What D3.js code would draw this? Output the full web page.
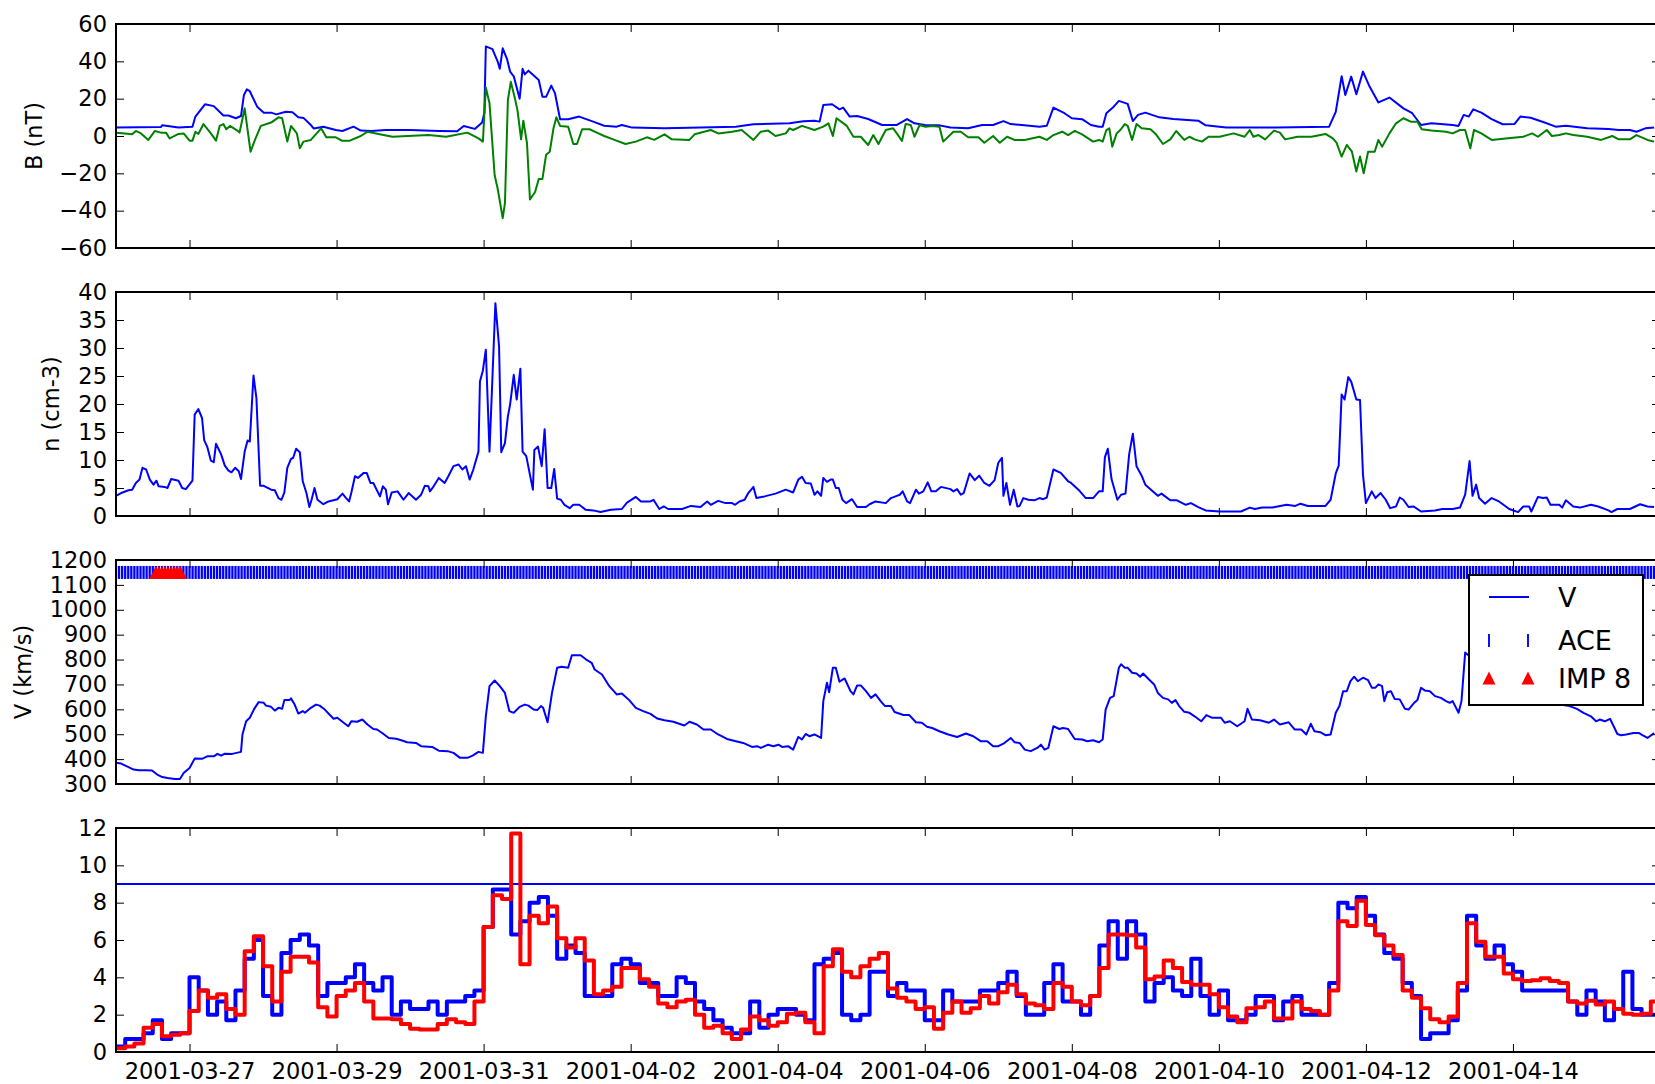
<!DOCTYPE html>
<html>
<head>
<meta charset="utf-8">
<title>Solar wind overview, 2001-03-26 to 2001-04-16</title>
<script src="https://d3js.org/d3.v7.min.js"></script>
<style>
  body { margin: 0; background: #fff; }
  text { font-family: "DejaVu Sans", sans-serif; }
</style>
</head>
<body>
<svg id="chart" width="1655" height="1084"></svg>
<script>
// times are days after 2001-03-26 00:00 UT

// |B| (nT)
const bMag = [[0,4.5],[0.61,4.8],[0.63,5.8],[0.85,4.5],[1.04,5],[1.08,10.4],[1.21,17],[1.33,16],[1.46,11],[1.53,11],[1.63,9.5],[1.70,10.7],[1.74,22],[1.78,25],[1.82,24],[1.92,15.7],[2.01,12.5],[2.11,12.5],[2.18,11.6],[2.31,13],[2.40,12.7],[2.48,10],[2.55,9.7],[2.65,5.9],[2.69,4],[2.82,5],[2.99,3.2],[3.08,2.7],[3.23,5],[3.33,2.9],[3.47,2.7],[3.67,3.2],[4.0,3.2],[4.39,2.7],[4.64,2.5],[4.73,5.4],[4.88,3.8],[4.98,7.2],[5.01,12.5],[5.03,48],[5.12,46.5],[5.19,40],[5.22,36],[5.26,47],[5.32,41],[5.36,34.5],[5.41,32],[5.49,20],[5.53,36],[5.56,33],[5.61,35],[5.75,30],[5.80,21],[5.85,21],[5.92,27],[5.97,23],[6.04,9],[6.15,9],[6.30,10.4],[6.49,7.7],[6.64,5.5],[6.81,5],[6.88,5.9],[7.02,4.5],[7.46,4.1],[7.95,4.5],[8.43,5],[8.67,6.3],[9.16,6.8],[9.35,7.9],[9.50,8.2],[9.57,7.7],[9.62,16.6],[9.74,17],[9.84,14.3],[9.89,15.2],[9.98,10.4],[10.08,10.7],[10.23,9.1],[10.42,5.9],[10.62,5.9],[10.76,9.1],[10.86,6.8],[11.0,5.9],[11.2,5.7],[11.35,4.5],[11.59,4.1],[11.78,5.9],[11.93,5.9],[12.07,8],[12.17,6.4],[12.32,5.9],[12.56,5],[12.66,5.5],[12.75,15.2],[12.90,12.2],[13.0,9.5],[13.14,9],[13.26,5.9],[13.37,5],[13.42,5],[13.47,12.2],[13.57,15.7],[13.64,18.8],[13.76,17.2],[13.83,8],[13.90,11.3],[14.0,12.5],[14.19,10],[14.38,9.1],[14.72,8.2],[14.82,5.7],[15.10,4.6],[15.78,4.5],[16.26,4.8],[16.50,5],[16.59,12.9],[16.67,32],[16.72,22],[16.80,31.8],[16.87,22.4],[16.96,34.5],[17.05,26.5],[17.17,18],[17.32,20.6],[17.51,14.8],[17.63,12.2],[17.75,5.9],[17.89,6.8],[18.18,5.9],[18.26,5.4],[18.33,11.3],[18.40,10.4],[18.46,14.3],[18.57,12.5],[18.71,9],[18.86,6.3],[19.02,6.4],[19.10,10.4],[19.24,9.8],[19.43,7.2],[19.58,5],[19.72,5.5],[20.01,4.1],[20.30,3.8],[20.44,3.2],[20.59,3.2],[20.68,2.3],[20.80,4.1],[20.92,4.5]];

// Bz (nT)
const bz = [[0,1.8],[0.12,1.4],[0.22,0.9],[0.27,2.7],[0.34,1.4],[0.44,-2.1],[0.53,2.7],[0.61,1.8],[0.68,1.8],[0.73,-1.3],[0.85,1.1],[0.92,1.4],[1.0,-2.5],[1.04,-2.5],[1.08,2.3],[1.12,1.1],[1.19,6.4],[1.29,1.4],[1.36,-2.5],[1.41,5.4],[1.46,6.4],[1.50,3.6],[1.55,5.4],[1.65,2.9],[1.68,1.8],[1.75,14.8],[1.83,-8.4],[1.89,-2.1],[1.97,5.4],[2.11,7.2],[2.21,10],[2.26,9.5],[2.33,-3],[2.38,5.4],[2.46,1.4],[2.50,-6.6],[2.55,-3],[2.65,-2.1],[2.79,4.1],[2.86,-0.7],[2.99,-0.7],[3.07,-2.5],[3.18,-2.5],[3.33,0],[3.42,2.3],[3.57,1.1],[3.76,-0.4],[4.25,0.5],[4.49,-0.4],[4.78,1.8],[4.93,-1.3],[4.99,-3],[5.03,26],[5.08,17.5],[5.15,-21],[5.19,-28],[5.26,-44],[5.29,-36],[5.33,19.3],[5.37,29],[5.42,21],[5.46,14],[5.51,-1.8],[5.54,8.2],[5.59,-3.9],[5.63,-34],[5.70,-30],[5.75,-23],[5.80,-23],[5.85,-10],[5.90,-8.4],[5.95,4.1],[5.99,10],[6.04,5.4],[6.15,5],[6.22,-4.3],[6.27,-4.3],[6.34,3.6],[6.44,3.6],[6.54,1.8],[6.64,0],[6.78,-2.1],[6.93,-4.3],[7.07,-3],[7.22,-0.7],[7.32,-2.1],[7.46,0.9],[7.56,-1.8],[7.80,-2.1],[7.87,0.9],[8.09,3.2],[8.19,1.4],[8.38,2.3],[8.51,3.2],[8.67,-2.1],[8.77,2.3],[8.87,2.9],[8.97,0],[9.11,1.4],[9.16,4.1],[9.21,3.2],[9.33,5.4],[9.50,3.2],[9.62,5],[9.69,6.8],[9.75,0],[9.80,9.5],[9.94,5.4],[10.03,-0.4],[10.13,-0.4],[10.23,-4.8],[10.30,0.5],[10.37,-4.3],[10.47,3.2],[10.57,4.1],[10.62,1.4],[10.69,-2.7],[10.74,6.4],[10.81,5.9],[10.86,-0.4],[10.93,5.9],[11.01,5],[11.10,5.4],[11.20,5],[11.25,-3],[11.39,2.3],[11.49,2.3],[11.59,-0.7],[11.73,-0.7],[11.81,-3.6],[11.93,0],[12.02,-3.6],[12.12,-0.4],[12.22,-2.1],[12.36,-2.1],[12.56,-0.4],[12.66,-2.1],[12.75,0.5],[12.87,2.3],[12.95,0.5],[13.04,2.7],[13.14,0.9],[13.29,-3],[13.37,-2.1],[13.42,-3],[13.47,3.2],[13.51,4.1],[13.55,-5.7],[13.61,1.4],[13.66,3.2],[13.72,6.4],[13.76,5.4],[13.82,-2.1],[13.88,6.4],[13.95,4.1],[14.07,3.6],[14.14,1.1],[14.24,-4.3],[14.34,-1.8],[14.42,2.7],[14.53,-2.1],[14.60,-0.4],[14.67,-1.8],[14.77,-3],[14.86,-0.4],[15.01,-0.4],[15.20,1.4],[15.35,-0.4],[15.42,3.2],[15.47,-0.4],[15.54,0.5],[15.63,-1.8],[15.75,2.9],[15.83,1.8],[15.90,-1.8],[16.07,-0.4],[16.26,-0.4],[16.45,1.1],[16.55,-1.3],[16.60,-3.6],[16.67,-11],[16.74,-4.8],[16.81,-8.4],[16.87,-19],[16.92,-11],[16.97,-20],[17.03,-8.4],[17.12,-8.4],[17.17,-2.1],[17.22,-5.7],[17.32,1.4],[17.41,6.8],[17.51,9.5],[17.61,7.7],[17.70,7.7],[17.76,3.6],[17.89,2.9],[18.09,2.3],[18.18,1.4],[18.28,3.2],[18.35,3.2],[18.42,-6.6],[18.47,3.2],[18.57,1.4],[18.71,-2.1],[18.90,-1.3],[19.14,-0.4],[19.26,1.4],[19.34,-0.4],[19.46,3.2],[19.53,0],[19.63,0.5],[19.72,1.4],[19.82,0.5],[20.01,-0.4],[20.20,-2.1],[20.35,0],[20.44,-1.8],[20.59,-1.8],[20.68,0.5],[20.83,-2.1],[20.92,-3]];

// proton density (cm-3)
const dens = [[0,3.6],[0.07,4.1],[0.17,4.6],[0.22,4.7],[0.27,5.9],[0.32,6.5],[0.36,8.6],[0.41,8.3],[0.46,6.5],[0.51,5.6],[0.55,6.3],[0.58,5.3],[0.66,5.2],[0.70,5.0],[0.75,6.6],[0.85,6.3],[0.90,5.0],[0.95,4.8],[1.04,6.3],[1.07,18.1],[1.12,19.1],[1.17,17.5],[1.20,13.5],[1.24,12.4],[1.29,9.9],[1.33,9.6],[1.36,12.9],[1.43,11.0],[1.48,9.0],[1.53,8.1],[1.57,7.8],[1.62,8.6],[1.67,8.0],[1.70,6.6],[1.75,11.5],[1.79,13.5],[1.82,13.3],[1.87,25.1],[1.91,21],[1.96,5.4],[2.01,5.4],[2.11,4.7],[2.16,4.6],[2.21,3.2],[2.25,2.9],[2.29,4.2],[2.33,8.6],[2.38,10.2],[2.41,10.4],[2.45,12.0],[2.50,11.4],[2.54,6.2],[2.59,4.1],[2.63,1.6],[2.66,2.9],[2.70,5.0],[2.74,2.9],[2.82,2.1],[2.89,2.6],[3.01,3.0],[3.08,4.0],[3.13,3.2],[3.17,2.6],[3.20,4.1],[3.25,7.1],[3.29,6.8],[3.37,7.7],[3.41,7.7],[3.46,5.9],[3.50,5.9],[3.59,3.5],[3.63,5.3],[3.67,4.7],[3.70,2.1],[3.75,4.2],[3.83,4.4],[3.91,2.9],[3.98,4.1],[4.08,2.9],[4.15,3.8],[4.20,5.4],[4.25,5.3],[4.27,4.4],[4.32,5.3],[4.39,6.8],[4.47,5.9],[4.52,7.1],[4.59,8.9],[4.66,9.2],[4.71,8.3],[4.76,8.9],[4.81,6.5],[4.86,8.3],[4.93,11.5],[4.95,24.0],[4.99,26],[5.03,29.7],[5.08,11.5],[5.16,38],[5.21,30.3],[5.24,11.4],[5.29,13],[5.33,17.8],[5.36,19.9],[5.41,25.2],[5.45,20.8],[5.50,26.3],[5.53,11.5],[5.58,10.7],[5.67,4.7],[5.69,11.8],[5.74,12.4],[5.79,8.9],[5.83,15.5],[5.87,5.0],[5.92,5.0],[5.96,8.4],[6.0,3.1],[6.05,2.9],[6.10,2.0],[6.17,1.4],[6.22,2.0],[6.30,2.0],[6.39,1.1],[6.49,1.0],[6.59,0.7],[6.73,1.1],[6.88,1.25],[6.95,2.4],[7.07,3.4],[7.14,2.6],[7.27,2.6],[7.31,2.9],[7.39,1.25],[7.45,1.7],[7.51,1.25],[7.70,1.25],[7.82,1.8],[7.95,1.6],[8.04,2.6],[8.09,2.0],[8.19,2.7],[8.29,2.3],[8.38,2.3],[8.42,2.0],[8.48,2.6],[8.55,2.9],[8.60,4.1],[8.67,5.2],[8.71,3.2],[8.82,3.5],[8.97,4.0],[9.11,4.7],[9.21,4.2],[9.28,6.5],[9.33,7.0],[9.38,5.9],[9.45,5.8],[9.50,3.8],[9.54,4.4],[9.59,3.6],[9.62,6.8],[9.67,6.1],[9.72,6.5],[9.75,6.5],[9.79,5.0],[9.83,5.0],[9.88,2.9],[9.93,2.3],[10.01,3.0],[10.08,1.6],[10.20,1.6],[10.25,2.1],[10.33,2.6],[10.47,2.3],[10.54,3.2],[10.62,3.6],[10.66,3.8],[10.70,4.4],[10.76,2.6],[10.80,2.3],[10.88,4.7],[10.92,4.0],[10.98,4.4],[11.04,6.0],[11.09,4.4],[11.15,4.4],[11.22,5.2],[11.35,4.8],[11.39,4.4],[11.44,4.8],[11.49,3.8],[11.53,4.1],[11.61,7.6],[11.68,6.4],[11.74,7.2],[11.81,5.9],[11.88,5.4],[11.95,6.4],[12.0,9.5],[12.05,10.4],[12.07,3.6],[12.11,5.9],[12.16,2.0],[12.21,4.7],[12.26,1.7],[12.29,1.8],[12.34,3.2],[12.41,2.9],[12.49,2.8],[12.56,3.2],[12.61,3.0],[12.66,3.3],[12.75,8.3],[12.85,7.7],[12.95,6.2],[12.99,5.9],[13.09,4.7],[13.19,3.2],[13.29,3.2],[13.37,4.4],[13.42,4.4],[13.45,10.5],[13.49,12.0],[13.54,6.6],[13.62,2.9],[13.67,3.8],[13.73,4.0],[13.78,11.0],[13.83,14.7],[13.88,8.9],[13.95,7.2],[14.0,5.6],[14.05,5.0],[14.17,3.6],[14.22,4.0],[14.26,3.6],[14.34,2.8],[14.43,2.8],[14.55,2.0],[14.62,2.3],[14.72,1.6],[14.82,1.0],[15.01,0.8],[15.30,0.8],[15.42,1.5],[15.49,1.25],[15.59,1.5],[15.73,1.5],[15.92,2.0],[16.04,1.8],[16.11,2.2],[16.21,1.8],[16.36,1.8],[16.45,1.8],[16.52,2.9],[16.59,7.6],[16.63,9.0],[16.67,21.7],[16.71,20.8],[16.76,24.8],[16.80,24.0],[16.87,20.8],[16.92,20.7],[16.96,7.4],[17.0,2.3],[17.08,4.4],[17.13,3.2],[17.20,4.1],[17.27,2.9],[17.33,1.4],[17.41,1.7],[17.46,3.3],[17.51,2.9],[17.58,1.6],[17.65,1.7],[17.75,0.8],[17.94,1.0],[18.04,1.25],[18.18,1.25],[18.28,1.5],[18.35,3.8],[18.41,9.8],[18.45,3.6],[18.50,5.6],[18.54,3.2],[18.62,2.2],[18.71,3.2],[18.81,2.6],[18.95,1.25],[19.07,0.7],[19.14,1.7],[19.22,1.7],[19.25,0.8],[19.34,3.4],[19.41,3.2],[19.46,3.3],[19.51,2.0],[19.63,2.0],[19.67,1.5],[19.72,2.8],[19.82,1.7],[19.91,1.5],[20.06,2.0],[20.16,1.7],[20.30,1.0],[20.34,0.7],[20.42,1.25],[20.59,1.25],[20.73,2.1],[20.83,1.7],[20.92,1.6]];

// solar wind speed (km/s)
const speed = [[0,385],[0.07,382],[0.17,368],[0.24,358],[0.31,355],[0.41,355],[0.49,354],[0.56,338],[0.63,328],[0.70,324],[0.80,320],[0.87,320],[0.92,344],[1.0,364],[1.07,402],[1.17,401],[1.24,411],[1.33,411],[1.38,421],[1.43,414],[1.48,422],[1.58,421],[1.70,429],[1.72,499],[1.77,552],[1.82,566],[1.88,602],[1.94,629],[2.01,626],[2.04,615],[2.11,610],[2.16,595],[2.21,606],[2.26,602],[2.29,637],[2.36,637],[2.38,644],[2.43,619],[2.48,583],[2.54,593],[2.57,586],[2.65,606],[2.72,619],[2.77,615],[2.84,599],[2.91,577],[2.96,562],[3.01,566],[3.11,543],[3.16,532],[3.20,552],[3.28,550],[3.35,559],[3.42,539],[3.50,521],[3.55,519],[3.62,505],[3.71,485],[3.81,482],[3.88,476],[3.96,468],[4.08,465],[4.15,452],[4.30,449],[4.39,434],[4.51,432],[4.59,425],[4.68,405],[4.78,405],[4.85,414],[4.93,429],[4.99,425],[5.03,572],[5.08,693],[5.15,716],[5.22,693],[5.29,666],[5.35,593],[5.41,586],[5.49,610],[5.56,619],[5.61,615],[5.68,599],[5.73,597],[5.78,613],[5.81,606],[5.87,548],[5.93,666],[6.0,767],[6.06,771],[6.15,767],[6.20,817],[6.27,817],[6.32,817],[6.39,801],[6.47,787],[6.51,760],[6.61,740],[6.71,693],[6.81,660],[6.88,664],[6.98,637],[7.07,606],[7.17,593],[7.27,582],[7.36,563],[7.46,556],[7.58,550],[7.73,535],[7.80,550],[7.90,539],[7.99,519],[8.09,519],[8.19,499],[8.31,481],[8.43,472],[8.53,465],[8.65,449],[8.72,452],[8.77,445],[8.87,458],[8.94,452],[9.01,458],[9.06,449],[9.14,452],[9.21,438],[9.28,489],[9.33,479],[9.38,501],[9.43,492],[9.50,499],[9.59,485],[9.62,633],[9.67,707],[9.70,669],[9.75,767],[9.79,767],[9.84,711],[9.91,724],[9.99,673],[10.03,660],[10.08,696],[10.13,696],[10.20,673],[10.27,646],[10.33,660],[10.40,633],[10.46,613],[10.54,613],[10.59,589],[10.71,577],[10.79,577],[10.88,548],[10.96,546],[11.03,530],[11.10,525],[11.20,512],[11.32,499],[11.44,489],[11.56,503],[11.66,492],[11.76,472],[11.85,472],[11.93,452],[12.0,452],[12.07,462],[12.17,485],[12.22,468],[12.29,465],[12.36,438],[12.44,432],[12.53,445],[12.58,458],[12.63,438],[12.68,445],[12.75,532],[12.83,521],[12.88,525],[12.95,521],[13.04,481],[13.14,479],[13.21,472],[13.29,476],[13.37,468],[13.42,479],[13.46,599],[13.52,646],[13.57,653],[13.64,767],[13.67,781],[13.72,767],[13.76,767],[13.82,747],[13.88,744],[13.93,731],[13.97,744],[14.05,720],[14.12,700],[14.17,666],[14.24,646],[14.31,640],[14.36,626],[14.41,637],[14.46,613],[14.53,590],[14.60,586],[14.67,572],[14.76,552],[14.83,577],[14.91,566],[15.03,566],[15.08,546],[15.15,552],[15.25,532],[15.35,552],[15.39,602],[15.45,559],[15.56,556],[15.68,546],[15.75,559],[15.83,539],[15.95,548],[16.03,519],[16.12,519],[16.19,499],[16.25,542],[16.30,512],[16.38,508],[16.45,496],[16.52,499],[16.59,586],[16.64,613],[16.69,673],[16.74,673],[16.79,713],[16.84,731],[16.89,713],[16.96,727],[17.03,717],[17.08,687],[17.13,687],[17.17,700],[17.22,693],[17.25,633],[17.29,669],[17.34,673],[17.39,642],[17.46,640],[17.53,602],[17.58,599],[17.65,624],[17.70,637],[17.75,687],[17.80,676],[17.87,673],[17.94,653],[18.02,646],[18.09,633],[18.14,626],[18.18,633],[18.26,586],[18.30,633],[18.35,828],[18.42,810],[18.50,795],[18.60,775],[18.75,740],[18.90,705],[19.05,690],[19.20,665],[19.35,645],[19.50,630],[19.62,620],[19.77,613],[19.87,602],[19.96,586],[20.06,572],[20.13,552],[20.18,559],[20.25,552],[20.32,562],[20.37,532],[20.42,501],[20.47,496],[20.54,499],[20.64,505],[20.71,505],[20.76,496],[20.83,485],[20.92,505]];

// 3-hourly index, observed (blue) and predicted (red), from 2001-03-26 00 UT
const kpObs = [0.3,0.7,0.7,1.0,1.7,0.7,1.0,1.0, 4.0,3.3,2.0,2.7,1.7,3.3,5.0,6.0, 3.0,2.0,5.3,6.0,6.3,5.7,3.0,3.7, 3.7,4.0,4.7,3.7,3.3,4.0,2.0,2.7,
  2.3,2.3,2.7,2.0,2.7,2.7,3.0,3.3, 6.7,8.7,8.7,6.3,7.0,8.0,8.3,7.3, 5.0,5.7,5.3,3.0,3.0,3.0,4.7,5.0, 4.7,3.7,3.7,3.0,3.0,4.0,3.7,2.7,
  2.3,1.7,1.3,1.0,1.0,2.7,1.3,2.0, 2.3,2.3,2.0,1.7,4.7,5.0,5.3,2.0, 1.7,2.0,4.3,4.3,3.0,3.7,3.3,3.3, 1.7,1.7,3.3,2.7,2.7,2.7,3.3,3.3,
  3.7,4.3,3.0,2.0,2.0,3.7,4.7,2.7, 2.7,2.0,3.0,5.7,7.0,5.0,7.0,6.3, 2.7,3.7,4.0,3.3,3.0,5.0,3.0,2.0, 3.3,1.7,1.7,2.0,3.0,3.0,1.7,2.7,
  3.0,2.0,2.0,2.0,3.7,8.0,7.7,8.3, 7.3,6.3,5.3,5.0,3.7,3.0,0.7,1.0, 1.0,1.7,3.3,7.3,5.7,5.0,5.7,4.7, 4.3,3.3,3.3,3.3,3.3,3.3,2.7,2.0,
  3.3,2.7,1.7,2.3,4.3,2.3,2.0,2.0];
const kpPred = [0.2,0.3,0.45,1.3,1.5,0.85,0.93,1.0, 2.2,3.3,2.9,3.1,2.3,2.0,5.4,6.2, 4.6,2.7,4.3,5.1,5.1,4.8,2.4,1.9, 3.0,3.3,3.7,2.7,1.8,1.8,1.75,1.5,
  1.25,1.2,1.2,1.5,1.75,1.6,1.5,2.7, 6.7,8.4,8.2,11.7,4.7,7.3,6.9,7.8, 6.1,5.6,6.1,4.9,3.1,3.3,3.5,4.5, 4.5,3.9,3.5,2.6,2.4,2.7,2.8,2.0,
  1.3,1.4,1.0,0.7,1.2,1.9,1.7,1.4, 1.6,2.05,2.1,1.6,1.0,4.6,5.5,4.3, 4.0,4.6,5.0,5.3,3.4,2.9,2.7,2.3, 2.4,1.25,2.1,2.7,2.1,2.35,3.0,2.6,
  3.2,3.6,3.1,2.6,2.5,2.3,3.7,3.5, 2.7,2.5,3.0,4.5,6.3,6.3,6.25,5.6, 3.9,4.05,4.9,4.5,3.75,3.6,3.6,3.1, 2.4,1.9,1.6,2.35,2.4,2.7,1.8,1.8,
  2.7,2.3,2.2,2.0,3.3,7.0,6.75,8.1, 6.8,6.25,5.7,5.2,3.3,2.9,2.35,1.75, 1.6,1.9,3.7,6.9,5.9,5.1,5.1,4.2, 3.9,3.8,3.85,3.95,3.8,3.7,2.7,2.6,
  2.75,2.55,2.7,2.3,2.05,2.0,2.05,2.7];
const kpThreshold = 9;

// spacecraft coverage flags (hours after start), drawn at V = 1150
const aceHours = [0, 504];
const imp8Hours = [13, 14, 15, 16, 17, 18, 19, 20, 21];
const flagLevel = 1150;

const dateTicks = ["2001-03-27","2001-03-29","2001-03-31","2001-04-02","2001-04-04","2001-04-06","2001-04-08","2001-04-10","2001-04-12","2001-04-14"];
const bTicks = [-60,-40,-20,0,20,40,60];
const nTicks = [0,5,10,15,20,25,30,35,40];
const vTicks = [300,400,500,600,700,800,900,1000,1100,1200];
const kTicks = [0,2,4,6,8,10,12];

const start = Date.UTC(2001, 2, 26);
const toDate = t => new Date(start + t * 864e5);
const parseDay = d3.utcParse("%Y-%m-%d");

const L = 116, R = 1660, H = 224;
const fontSize = "22.5px";
const svg = d3.select("#chart");
const x = d3.scaleUtc().domain([toDate(0), toDate(21)]).range([L, R]);
const tickDates = dateTicks.map(parseDay);

const panels = [
  { top: 24,  domain: [-60, 60],    ticks: bTicks, label: "B (nT)",   labelX: 34 },
  { top: 292, domain: [0, 40],      ticks: nTicks, label: "n (cm-3)", labelX: 51 },
  { top: 560, domain: [300, 1200],  ticks: vTicks, label: "V (km/s)", labelX: 23 },
  { top: 828, domain: [0, 12],      ticks: kTicks, label: null }
];

function styleAxis(g) {
  g.select(".domain").remove();
  g.selectAll(".tick line").attr("stroke", "#000").attr("stroke-width", 1);
  g.selectAll(".tick text").attr("fill", "#000")
    .style("font-family", "'DejaVu Sans', sans-serif").style("font-size", fontSize);
}

panels.forEach((p, i) => {
  const g = svg.append("g").attr("transform", `translate(0,${p.top})`);
  p.g = g;
  p.y = d3.scaleLinear().domain(p.domain).range([H, 0]);

  g.append("clipPath").attr("id", "clip" + i)
    .append("rect").attr("x", L).attr("y", 0).attr("width", R - L).attr("height", H);
  p.plot = g.append("g").attr("clip-path", `url(#clip${i})`);

  g.append("g").attr("transform", `translate(${L},0)`)
    .call(d3.axisLeft(p.y).tickValues(p.ticks).tickFormat(d3.format("d")).tickSize(-8).tickPadding(9))
    .call(styleAxis);
  g.append("g").attr("transform", `translate(${R},0)`)
    .call(d3.axisRight(p.y).tickValues(p.ticks).tickFormat("").tickSize(-8))
    .call(styleAxis);
  g.append("g")
    .call(d3.axisTop(x).tickValues(tickDates).tickFormat("").tickSize(-8))
    .call(styleAxis);
  g.append("g").attr("transform", `translate(0,${H})`)
    .call(d3.axisBottom(x).tickValues(tickDates)
      .tickFormat(i === 3 ? d3.utcFormat("%Y-%m-%d") : "").tickSize(-8).tickPadding(11))
    .call(styleAxis);

  if (p.label) {
    g.append("text")
      .attr("transform", `translate(${p.labelX},${H / 2}) rotate(-90)`)
      .attr("text-anchor", "middle").attr("dy", "0.35em")
      .style("font-size", fontSize).text(p.label);
  }
});

function drawLine(p, data, color, width, curve) {
  const line = d3.line().x(d => x(toDate(d[0]))).y(d => p.y(d[1]));
  if (curve) line.curve(curve);
  p.plot.append("path").datum(data)
    .attr("fill", "none").attr("stroke", color).attr("stroke-width", width)
    .attr("stroke-linejoin", "round").attr("d", line);
}

// panel 1: |B| and Bz
drawLine(panels[0], bMag, "#0000ff", 2);
drawLine(panels[0], bz, "#008000", 2);

// panel 2: density
drawLine(panels[1], dens, "#0000ff", 2);

// panel 3: speed with coverage flags
const pV = panels[2];
drawLine(pV, speed, "#0000ff", 2);
const aceTimes = d3.range(aceHours[0], aceHours[1]);
pV.plot.append("g").selectAll("line").data(aceTimes).join("line")
  .attr("x1", h => x(toDate(h / 24))).attr("x2", h => x(toDate(h / 24)))
  .attr("y1", pV.y(flagLevel) - 6.5).attr("y2", pV.y(flagLevel) + 6.5)
  .attr("stroke", "#0000ff").attr("stroke-width", 2.3);
const tri = (cx, cy, s) => `M${cx - s},${cy + s}L${cx + s},${cy + s}L${cx},${cy - s}Z`;
pV.plot.append("g").selectAll("path").data(imp8Hours).join("path")
  .attr("d", h => tri(x(toDate(h / 24)), pV.y(flagLevel), 6.5))
  .attr("fill", "#ff0000");

// legend
const lg = svg.append("g").attr("transform", "translate(1469,575)");
lg.append("rect").attr("width", 174).attr("height", 130)
  .attr("fill", "#fff").attr("stroke", "#000").attr("stroke-width", 2);
lg.append("line").attr("x1", 20).attr("x2", 60).attr("y1", 22).attr("y2", 22)
  .attr("stroke", "#0000ff").attr("stroke-width", 2);
[20, 59].forEach(dx => {
  lg.append("line").attr("x1", dx).attr("x2", dx).attr("y1", 59).attr("y2", 72)
    .attr("stroke", "#0000ff").attr("stroke-width", 1.9);
  lg.append("path").attr("d", tri(dx, 103, 6.5)).attr("fill", "#ff0000");
});
[["V", 22], ["ACE", 65], ["IMP 8", 103]].forEach(([t, cy]) => {
  lg.append("text").attr("x", 89).attr("y", cy).attr("dy", "0.36em")
    .style("font-size", "27px").text(t);
});

// panel 4: 3-hourly index
const pK = panels[3];
pK.plot.append("line").attr("x1", L).attr("x2", R)
  .attr("y1", pK.y(kpThreshold)).attr("y2", pK.y(kpThreshold))
  .attr("stroke", "#0000ff").attr("stroke-width", 1.8);
const stepData = arr => arr.map((v, i) => [i / 8, v]).concat([[arr.length / 8, arr[arr.length - 1]]]);
drawLine(pK, stepData(kpObs), "#0000ff", 4, d3.curveStepAfter);
drawLine(pK, stepData(kpPred), "#ff0000", 4, d3.curveStepAfter);

// frames last so they sit on top
panels.forEach(p => {
  p.g.append("rect").attr("x", L).attr("y", 0).attr("width", R - L).attr("height", H)
    .attr("fill", "none").attr("stroke", "#000").attr("stroke-width", 2);
});
</script>
</body>
</html>
